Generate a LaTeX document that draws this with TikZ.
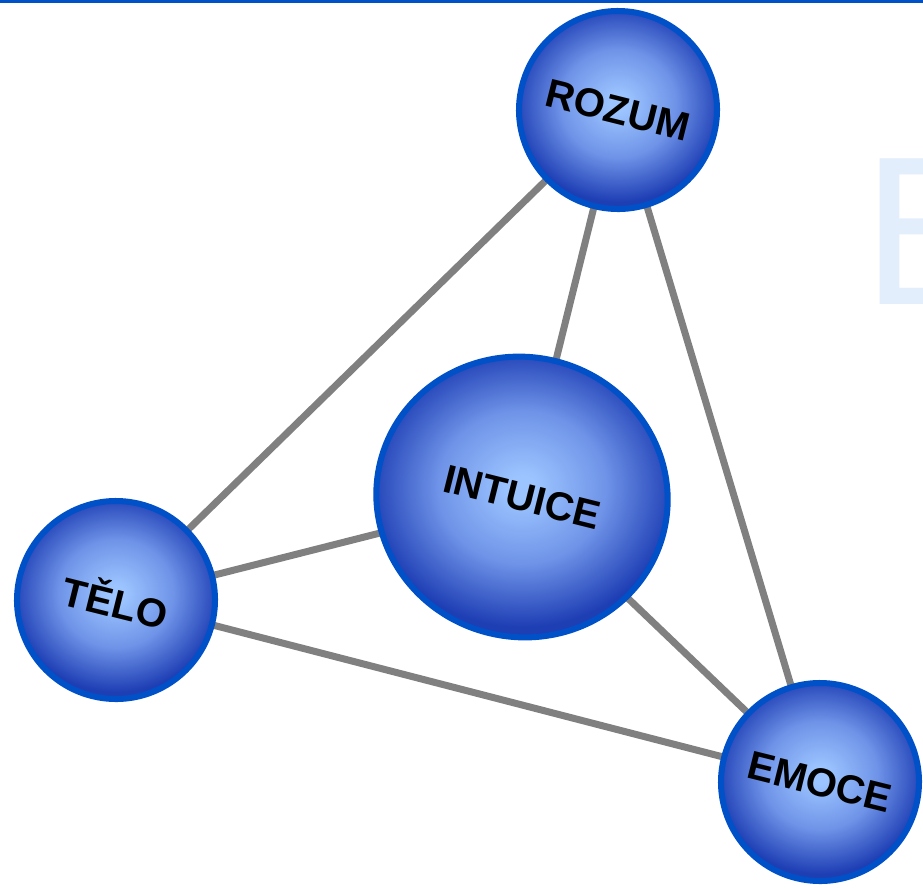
\documentclass[tikz,border=0pt]{standalone}
\usepackage{fontspec}
\setmainfont{Liberation Sans}
\newfontfamily\ghostfont{DejaVu Sans}
\usetikzlibrary{shapes.geometric}
\definecolor{ballin}{HTML}{9CC5FF}
\definecolor{ballmid}{HTML}{6F94E8}
\definecolor{ballout}{HTML}{1E3EB4}
\definecolor{ballrim}{HTML}{0050C8}
\definecolor{barblue}{HTML}{0050C8}
\definecolor{ghost}{HTML}{E3EEFC}
\definecolor{edgegray}{HTML}{808080}
\pgfdeclareradialshading{sphere}{\pgfpoint{0bp}{0bp}}{color(0bp)=(ballin); color(2bp)=(ballin); color(13bp)=(ballmid); color(24bp)=(ballout); color(50bp)=(ballout)}
\begin{document}
\begin{tikzpicture}[x=1pt,y=-1pt,
    ball/.style={circle,draw=ballrim,line width=6pt,shading=sphere,minimum size=198pt,
        inner sep=0pt,rotate=-14,font=\fontsize{40}{40}\selectfont\bfseries},
    bigball/.style={ball,ellipse,minimum width=292pt,minimum height=280pt},
    link/.style={draw=edgegray,line width=7pt}]
    \useasboundingbox (0,0) rectangle (923,887);
    \clip (0,0) rectangle (923,887);
    \fill[barblue] (0,0) rectangle (923,3);
    \node at (860,304)[anchor=base west,inner sep=0pt,text=ghost,font=\fontsize{200}{200}\ghostfont]{B};
    % spojnice
    \coordinate (r) at (618,110);
    \coordinate (i) at (522,497);
    \coordinate (t) at (116,600);
    \coordinate (e) at (820,782);
    \draw[link] (r) -- (t);
    \draw[link] (r) -- (i);
    \draw[link] (r) -- (e);
    \draw[link] (t) -- (i);
    \draw[link] (t) -- (e);
    \draw[link] (i) -- (e);
    % koule
    \node (rozum) at (r)[ball]{ROZUM};
    \node (intuice) at (i)[bigball]{INTUICE};
    \node (telo) at (t)[ball]{TĚLO};
    \node (emoce) at (e)[ball]{EMOCE};
\end{tikzpicture}
\end{document}
